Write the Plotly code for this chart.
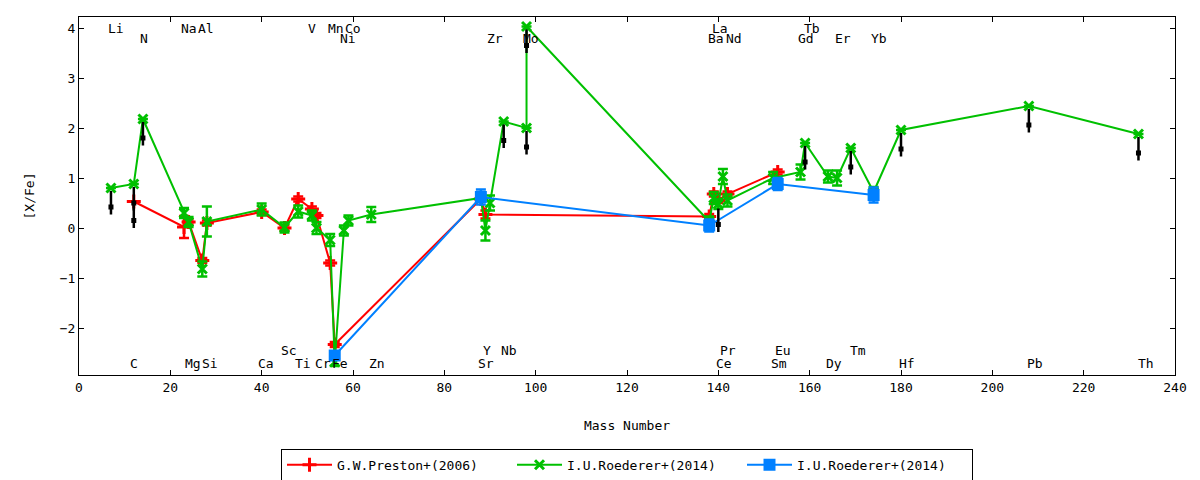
import plotly.graph_objects as go

# G.W.Preston+(2006)
preston_mass = [12, 23, 24, 27, 28, 40, 45, 48, 51, 52, 55, 56, 88, 89, 138, 139, 140, 142, 153]
preston_xfe = [0.53, 0.02, 0.12, -0.65, 0.10, 0.32, 0.00, 0.58, 0.38, 0.25, -0.70, -2.33,
               0.58, 0.27, 0.23, 0.68, 0.55, 0.68, 1.12]
preston_err = [0.0, 0.22, 0.05, 0.05, 0.05, 0.05, 0.05, 0.05, 0.05, 0.05, 0.05, 0.05,
               0.05, 0.08, 0.05, 0.05, 0.05, 0.05, 0.05]

# I.U.Roederer+(2014)
roederer_mass = [7, 12, 14, 23, 24, 27, 28, 40, 45, 48, 51, 52, 55, 56, 58, 59, 64,
                 88, 89, 90, 93, 98, 98, 138, 139, 140, 141, 142, 152, 158, 159,
                 164, 166, 169, 174, 180, 208, 232]
roederer_xfe = [0.80, 0.88, 2.18, 0.30, 0.12, -0.82, 0.13, 0.37, 0.01, 0.33, 0.25, 0.00,
                -0.24, -2.68, -0.05, 0.15, 0.27, 0.60, -0.05, 0.50, 2.13, 2.00, 4.03,
                0.13, 0.60, 0.48, 1.03, 0.55, 1.00, 1.12, 1.70, 1.03, 1.00, 1.60,
                0.72, 1.96, 2.44, 1.88]
roederer_err = [0.0, 0.0, 0.0, 0.10, 0.10, 0.15, 0.30, 0.12, 0.10, 0.12, 0.10, 0.12,
                0.12, 0.08, 0.10, 0.10, 0.15, 0.0, 0.20, 0.15, 0.0, 0.0, 0.0,
                0.10, 0.12, 0.10, 0.15, 0.12, 0.12, 0.15, 0.0, 0.12, 0.15, 0.0,
                0.10, 0.0, 0.0, 0.0]

# I.U.Roederer+(2014), second set
roederer2_mass = [56, 88, 138, 153, 174]
roederer2_xfe = [-2.55, 0.62, 0.05, 0.88, 0.66]
roederer2_err = [0.05, 0.15, 0.12, 0.12, 0.15]

# upper limits (black arrows)
ul_mass = [7, 12, 12, 14, 93, 98, 98, 140, 159, 169, 180, 208, 232]
ul_xfe = [0.80, 0.88, 0.53, 2.18, 2.13, 2.00, 4.03, 0.45, 1.70, 1.60, 1.96, 2.44, 1.88]

# element labels
elem_name = ["Li", "Na", "Al", "V", "Mn", "Co", "La", "Tb",
             "N", "Ni", "Zr", "Mo", "Ba", "Nd", "Gd", "Er", "Yb",
             "Sc", "Y", "Nb", "Pr", "Eu", "Tm",
             "C", "Mg", "Si", "Ca", "Ti", "Cr", "Fe", "Zn", "Sr", "Ce", "Sm", "Dy", "Hf", "Pb", "Th"]
elem_x = [8.1, 24.1, 27.8, 51.0, 56.3, 60.0, 140.4, 160.5,
          14.2, 58.9, 91.1, 99.0, 139.5, 143.4, 159.2, 167.3, 175.2,
          46.0, 89.3, 94.2, 142.1, 154.2, 170.6,
          12.1, 24.9, 28.7, 40.9, 49.1, 53.4, 57.2, 65.3, 89.1, 141.2, 153.3, 165.3, 181.3, 209.3, 233.6]
elem_row = ["t1"] * 8 + ["t2"] * 9 + ["b1"] * 6 + ["b2"] * 15

row_y = {"t1": 4.0, "t2": 3.8, "b1": -2.44, "b2": -2.7}
ARROW_LEN = 0.53
FONT = "DejaVu Sans Mono"

fig = go.Figure()


def add_series(mass, xfe, err, name, color, symbol, size):
    fig.add_trace(go.Scatter(
        x=mass, y=xfe, name=name, mode="lines+markers",
        line=dict(color=color, width=2),
        marker=dict(color=color, symbol=symbol, size=size, line=dict(color=color, width=3)),
        error_y=dict(type="data", array=err, color=color, thickness=2.5, width=5),
    ))


add_series(preston_mass, preston_xfe, preston_err, "G.W.Preston+(2006)", "#ff0000", "cross-thin", 10)
add_series(roederer_mass, roederer_xfe, roederer_err, "I.U.Roederer+(2014)", "#00c000", "x-thin", 9)
add_series(roederer2_mass, roederer2_xfe, roederer2_err, "I.U.Roederer+(2014)", "#0080ff", "square", 9)

# upper-limit arrows: thin shaft plus small block head
for m, v in zip(ul_mass, ul_xfe):
    fig.add_annotation(x=m, y=v - ARROW_LEN, ax=m, ay=v - 0.03, xref="x", yref="y",
                       axref="x", ayref="y", text="", showarrow=True,
                       arrowhead=0, arrowwidth=2.5, arrowcolor="black")
    fig.add_annotation(x=m, y=v - 0.43, ax=m, ay=v - 0.3, xref="x", yref="y",
                       axref="x", ayref="y", text="", showarrow=True,
                       arrowhead=0, arrowwidth=5, arrowcolor="black")

# element names
for name, x, row in zip(elem_name, elem_x, elem_row):
    fig.add_annotation(x=x, y=row_y[row], xref="x", yref="y", text=name, showarrow=False,
                       font=dict(family=FONT, size=13, color="black"))

axis_common = dict(showline=True, linecolor="black", linewidth=1, mirror="allticks",
                   ticks="inside", ticklen=5, tickcolor="black", showgrid=False,
                   zeroline=False, automargin=False,
                   tickfont=dict(family=FONT, size=13, color="black"))

fig.update_xaxes(range=[0, 240], dtick=20, tick0=0,
                 title=dict(text="Mass Number", font=dict(family=FONT, size=13), standoff=27),
                 **axis_common)
fig.update_yaxes(range=[-2.94, 4.22], dtick=1, tick0=0,
                 title=dict(text="[X/Fe]", font=dict(family=FONT, size=13), standoff=22),
                 **axis_common)

# page body adds ~8px offset, margins compensate
fig.update_layout(
    width=1200, height=480,
    margin=dict(l=71, r=33, t=9, b=113, autoexpand=False),
    plot_bgcolor="white", paper_bgcolor="white",
    font=dict(family=FONT, size=13, color="black"),
    showlegend=True,
    legend=dict(orientation="h", x=0.5, xanchor="center", y=-0.251, yanchor="middle",
                bordercolor="black", borderwidth=1, bgcolor="white",
                font=dict(family=FONT, size=13), itemwidth=45,
                entrywidth=170, entrywidthmode="pixels"),
)

fig.write_html("out.html")
